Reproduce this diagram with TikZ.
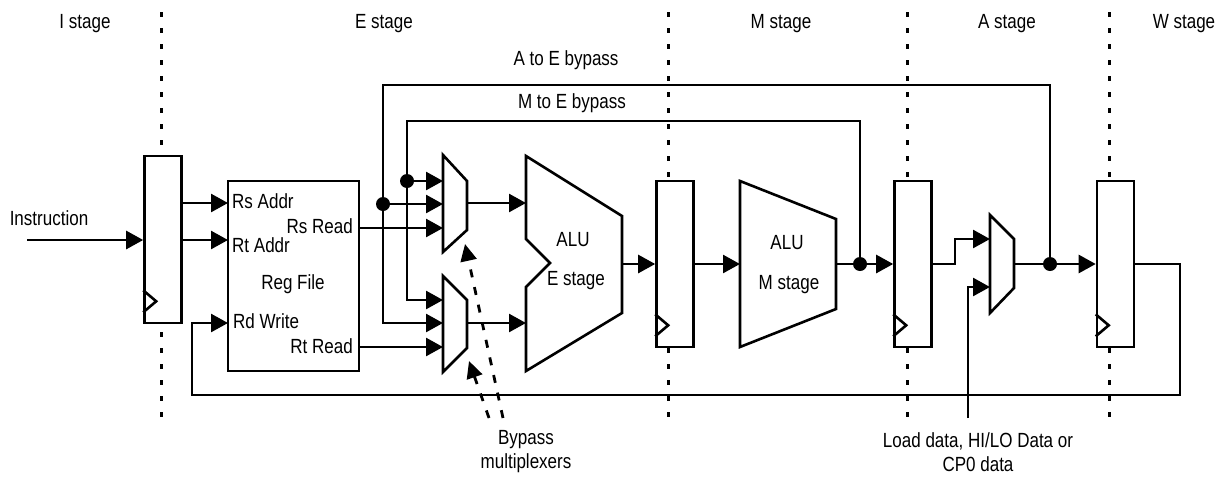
\documentclass[tikz,border=0pt]{standalone}
\usepackage{fontspec}
\setmainfont{Liberation Sans}[FakeStretch=0.83]
\usetikzlibrary{arrows.meta}
\usetikzlibrary{calc}

\begin{document}
\begin{tikzpicture}[x=1pt,y=-1pt,
  wire/.style={line width=2.6pt},
  arr/.style={wire,-{Triangle[length=17pt,width=18pt]}},
  reg/.style={draw,line width=2.6pt,fill=white,minimum width=37pt,minimum height=166pt,inner sep=0pt},
  blk/.style={draw,line width=2.6pt,fill=white,line join=miter},
  lbl/.style={inner sep=0pt,font=\fontsize{20.5}{24}\selectfont},
  divider/.style={line width=3pt,dash pattern=on 5pt off 11pt},
  bpass/.style={line width=2.8pt,dash pattern=on 8pt off 10pt,-{Triangle[length=17pt,width=16pt]}},
  jdot/.style={circle,fill,inner sep=0pt,minimum size=14pt}]
\useasboundingbox (0,0) rectangle (1228,477);

% stages
\foreach \s/\x in {I/85,E/384,M/781,A/1007,W/1184}
  \node[lbl,anchor=base] (st\s) at (\x,28) {\s\ stage};
\foreach \x in {161,668,907,1109}
  \draw[divider] (\x,12) -- (\x,420);

% pipeline registers
\node[reg,minimum height=167pt] (rI) at (163,239.5) {};
\node[reg] (rE) at (675,264) {};
\node[reg] (rM) at (913,264) {};
\node[reg] (rW) at (1115.5,264) {};
\foreach \r in {rI,rE,rM,rW}
  \draw[wire] ($(\r.south west)+(0,-34)$) -- ++(13,11) -- ++(-13,11);

% register file
\node[reg,minimum width=131pt,minimum height=190pt] (rf) at (293.5,276) {};
\node[lbl,anchor=base west] (lRsA) at (232,208) {Rs Addr};
\node[lbl,anchor=base west] (lRtA) at (232,252) {Rt Addr};
\node[lbl,anchor=base east] (lRsR) at (353,233) {Rs Read};
\node[lbl,anchor=base] (lRf) at (293,289) {Reg File};
\node[lbl,anchor=base west] (lRdW) at (233,328) {Rd Write};
\node[lbl,anchor=base east] (lRtR) at (353,353) {Rt Read};

% bypass muxes, ALUs, A stage mux
\draw[blk] (443,155) -- (467,181) -- (467,230) -- (443,252) -- cycle;
\draw[blk] (443,276) -- (467,300) -- (467,348) -- (443,372) -- cycle;
\draw[blk] (526,156) -- (622,216) -- (622,313) -- (526,371) -- (526,287) -- (550,263) -- (526,239) -- cycle;
\draw[blk] (740,181) -- (836,219) -- (836,309) -- (740,347) -- cycle;
\draw[blk] (990,215) -- (1014,239) -- (1014,288) -- (990,313) -- cycle;
\node[lbl,anchor=base] (lAluE) at (573,246) {ALU};
\node[lbl,anchor=base] (lAluE2) at (576,285) {E stage};
\node[lbl,anchor=base] (lAluM) at (787,249) {ALU};
\node[lbl,anchor=base] (lAluM2) at (789,289) {M stage};

% ports
\coordinate (instr) at (27,240);
\coordinate (rsA) at (228,203);
\coordinate (rtA) at (228,240);
\coordinate (rdW) at (228,323);
\coordinate (rsR) at (359,228);
\coordinate (rtR) at (359,347);
\coordinate (m1a) at (443,181);
\coordinate (m1b) at (443,204);
\coordinate (m1c) at (443,228);
\coordinate (m1o) at (467,203);
\coordinate (m2a) at (443,300);
\coordinate (m2b) at (443,323);
\coordinate (m2c) at (443,347);
\coordinate (m2o) at (467,323);
\coordinate (aluEa) at (526,203);
\coordinate (aluEb) at (526,323);
\coordinate (aluEo) at (622,264);
\coordinate (aluMi) at (740,264);
\coordinate (aluMo) at (836,264);
\coordinate (amA) at (990,239);
\coordinate (amB) at (990,287);
\coordinate (amO) at (1014,264);
\coordinate (jM) at (860,264);
\coordinate (jA) at (1050,264);
\coordinate (jM1) at (407,181);
\coordinate (jA1) at (383,204);
\coordinate (mTop) at (407,121);
\coordinate (aTop) at (383,85);
\coordinate (step) at (955,239);
\coordinate (load) at (968,418);
\coordinate (loopR) at (1180,395);
\coordinate (loopL) at (192,395);

% wires
\node[lbl,anchor=base] (lInstr) at (49,225) {Instruction};
\draw[arr] (instr) -- (instr -| rI.west);
\draw[arr] (rsA -| rI.east) -- (rsA);
\draw[arr] (rtA -| rI.east) -- (rtA);
\draw[arr] (rsR) -- (m1c);
\draw[arr] (rtR) -- (m2c);
\draw[arr] (m1o) -- (aluEa);
\draw[arr] (m2o) -- (aluEb);
\draw[arr] (aluEo) -- (aluEo -| rE.west);
\draw[arr] (rE.east) -- (aluMi);
\draw[arr] (aluMo) -- (rM.west);
\draw[arr] (rM.east) -| (step) -- (amA);
\draw[arr] (load) |- (amB);
\draw[arr] (amO) -- (rW.west);
\draw[arr] (rW.east) -| (loopR) -- (loopL) |- (rdW);
\draw[arr] (jM) |- (mTop) -- (mTop |- m2a) -- (m2a);
\draw[arr] (jM1) -- (m1a);
\draw[arr] (jA) |- (aTop) -- (aTop |- m2b) -- (m2b);
\draw[arr] (jA1) -- (m1b);
\foreach \j in {jM,jA,jM1,jA1}
  \node[jdot] at (\j) {};
\node[lbl,anchor=base] (lMtoE) at (572,108) {M to E bypass};
\node[lbl,anchor=base] (lAtoE) at (566,65) {A to E bypass};

% bypass note
\node[lbl,align=center] (lBypass) at (526,452) {Bypass\\multiplexers};
\draw[bpass] (503,418) -- (465,244);
\draw[bpass] (489,418) -- (469,361);
\node[lbl,align=center] (lLoad) at (978,452) {Load data, HI/LO Data or\\CP0 data};
\end{tikzpicture}
\end{document}
